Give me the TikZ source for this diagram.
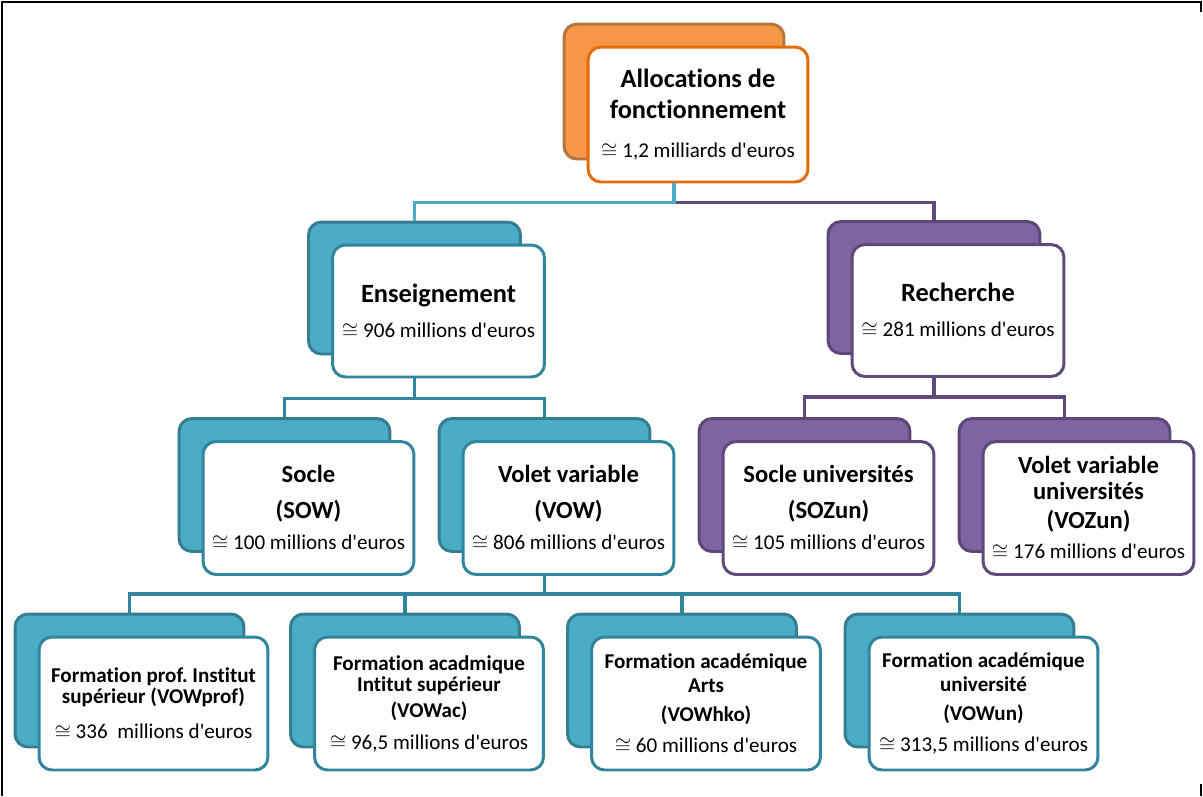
\documentclass[tikz,border=0pt]{standalone}
\usepackage{fontspec}
\setmainfont{Carlito}[Ligatures={TeXOff,CommonOff}]
\usepackage{tikz}
\usetikzlibrary{positioning}
\definecolor{aquafill}{HTML}{4BACC6}
\definecolor{aquaedge}{HTML}{357D91}
\definecolor{aqualine}{HTML}{31859C}
\definecolor{violetfill}{HTML}{8064A2}
\definecolor{violetedge}{HTML}{5C4776}
\definecolor{violetline}{HTML}{604A7B}
\definecolor{orangefill}{HTML}{F79646}
\definecolor{orangeedge}{HTML}{B5733E}
\definecolor{orangeline}{HTML}{E46C0A}
\newcommand{\ttl}[1]{{\fontsize{15}{17}\selectfont\bfseries #1}}
\newcommand{\sttl}[1]{{\fontsize{14}{16}\selectfont\bfseries #1}}
\newcommand{\lttl}[1]{{\fontsize{12}{14}\selectfont\bfseries #1}}
\frenchspacing

\begin{document}
\begin{tikzpicture}[x=0.02cm, y=-0.02cm,
      shell/.style={draw=#1edge, fill=#1fill, line width=1.7pt, rounded corners=0.26cm, inner sep=0pt},
      card/.style={draw=#1line, fill=white, line width=1.7pt, rounded corners=0.26cm, inner sep=0pt,
                   align=center, xshift=0.48cm, yshift=-0.46cm, font=\fontsize{12}{14}\selectfont},
      lvlzero/.style={minimum width=4.4cm, minimum height=2.7cm},
      lvlone/.style={minimum width=4.24cm, minimum height=2.64cm},
      lvltwo/.style={minimum width=4.22cm, minimum height=2.66cm},
      lvlthree/.style={minimum width=4.58cm, minimum height=2.66cm, font=\fontsize{12}{12}\selectfont},
      link/.style={line width=1.8pt, draw=#1},
      frame/.style={line width=1.6pt, black}
    ]
      \useasboundingbox (0,0) rectangle (1203,796);
      \draw[frame] (1201,12) -- (1201,2) -- (2,2) -- (2,796);
      \draw[frame] (1201,784) -- (1201,796);

      % Row 0: total
      \node[shell=orange, lvlzero] (allocb) at (674,91.5) {};
      \node[card=orange, lvlzero] (alloc) at (allocb) {\ttl{Allocations de}\\[3.6pt]\ttl{fonctionnement}\\[8pt]$\cong$ 1,2 milliards d'euros};

      % Row 1: teaching and research
      \node[shell=aqua, lvlone] (ensb) at (414.5,288) {};
      \node[card=aqua, lvlone] (ens) at (ensb) {\ttl{Enseignement}\\[5.8pt]$\cong$ 906 millions d'euros};
      \node[shell=violet, lvlone] (rechb) at (934,287.5) {};
      \node[card=violet, lvlone] (rech) at (rechb) {\ttl{Recherche}\\[5.8pt]$\cong$ 281 millions d'euros};

      % Row 2: base and variable parts
      \node[shell=aqua, lvltwo] (sowb) at (284.5,485) {};
      \node[card=aqua, lvltwo] (sow) at (sowb) {\sttl{Socle}\\[6.5pt]\sttl{(SOW)}\\[3.5pt]$\cong$ 100 millions d'euros};
      \node[shell=aqua, lvltwo] (vowb) at (544.5,485) {};
      \node[card=aqua, lvltwo] (vow) at (vowb) {\sttl{Volet variable}\\[6.5pt]\sttl{(VOW)}\\[3.5pt]$\cong$ 806 millions d'euros};
      \node[shell=violet, lvltwo] (sozb) at (804.5,485) {};
      \node[card=violet, lvltwo] (soz) at (sozb) {\sttl{Socle universités}\\[6.5pt]\sttl{(SOZun)}\\[3.5pt]$\cong$ 105 millions d'euros};
      \node[shell=violet, lvltwo] (vozb) at (1064.5,485) {};
      \node[card=violet, lvltwo] (voz) at (vozb) {\sttl{Volet variable}\\[0.7pt]\sttl{universités}\\[2.4pt]\sttl{(VOZun)}\\[3pt]$\cong$ 176 millions d'euros};

      % Row 3: variable part split
      \node[shell=aqua, lvlthree] (profb) at (129.5,680.5) {};
      \node[card=aqua, lvlthree] (prof) at (profb) {\lttl{Formation prof. Institut}\\\lttl{supérieur (VOWprof)}\\[8.4pt]$\cong$ 336\ \ millions d'euros};
      \node[shell=aqua, lvlthree] (acb) at (405,680.5) {};
      \node[card=aqua, lvlthree] (ac) at (acb) {\lttl{Formation acadmique}\\\lttl{Intitut supérieur}\\[3pt]\lttl{(VOWac)}\\[6pt]$\cong$ 96,5 millions d'euros};
      \node[shell=aqua, lvlthree] (hkob) at (682,680.5) {};
      \node[card=aqua, lvlthree] (hko) at (hkob) {\lttl{Formation académique}\\[1.6pt]\lttl{Arts}\\[4.4pt]\lttl{(VOWhko)}\\[6pt]$\cong$ 60 millions d'euros};
      \node[shell=aqua, lvlthree] (unb) at (959.5,680.5) {};
      \node[card=aqua, lvlthree] (un) at (unb) {\lttl{Formation académique}\\[1.6pt]\lttl{université}\\[4.4pt]\lttl{(VOWun)}\\[6pt]$\cong$ 313,5 millions d'euros};

      % Connectors
      \draw[link=violetline] (alloc.south -| allocb.north) ++(0,19) -| (rechb.north);
      \draw[link=aquafill] (alloc.south -| allocb.north) -- ++(0,19) -| (ensb.north);

      \draw[link=aqualine] (ens.south -| ensb.north) -- ++(0,20) -| (sowb.north);
      \draw[link=aqualine] (ens.south -| ensb.north) ++(0,20) -| (vowb.north);
      \draw[link=violetline] (rech.south -| rechb.north) -- ++(0,19) -| (sozb.north);
      \draw[link=violetline] (rech.south -| rechb.north) ++(0,19) -| (vozb.north);

      \draw[link=aqualine] (vow.south -| vowb.north) -- ++(0,18) -| (profb.north);
      \draw[link=aqualine] (vow.south -| vowb.north) ++(0,18) -| (acb.north);
      \draw[link=aqualine] (vow.south -| vowb.north) ++(0,18) -| (hkob.north);
      \draw[link=aqualine] (vow.south -| vowb.north) ++(0,18) -| (unb.north);
    \end{tikzpicture}
\end{document}
